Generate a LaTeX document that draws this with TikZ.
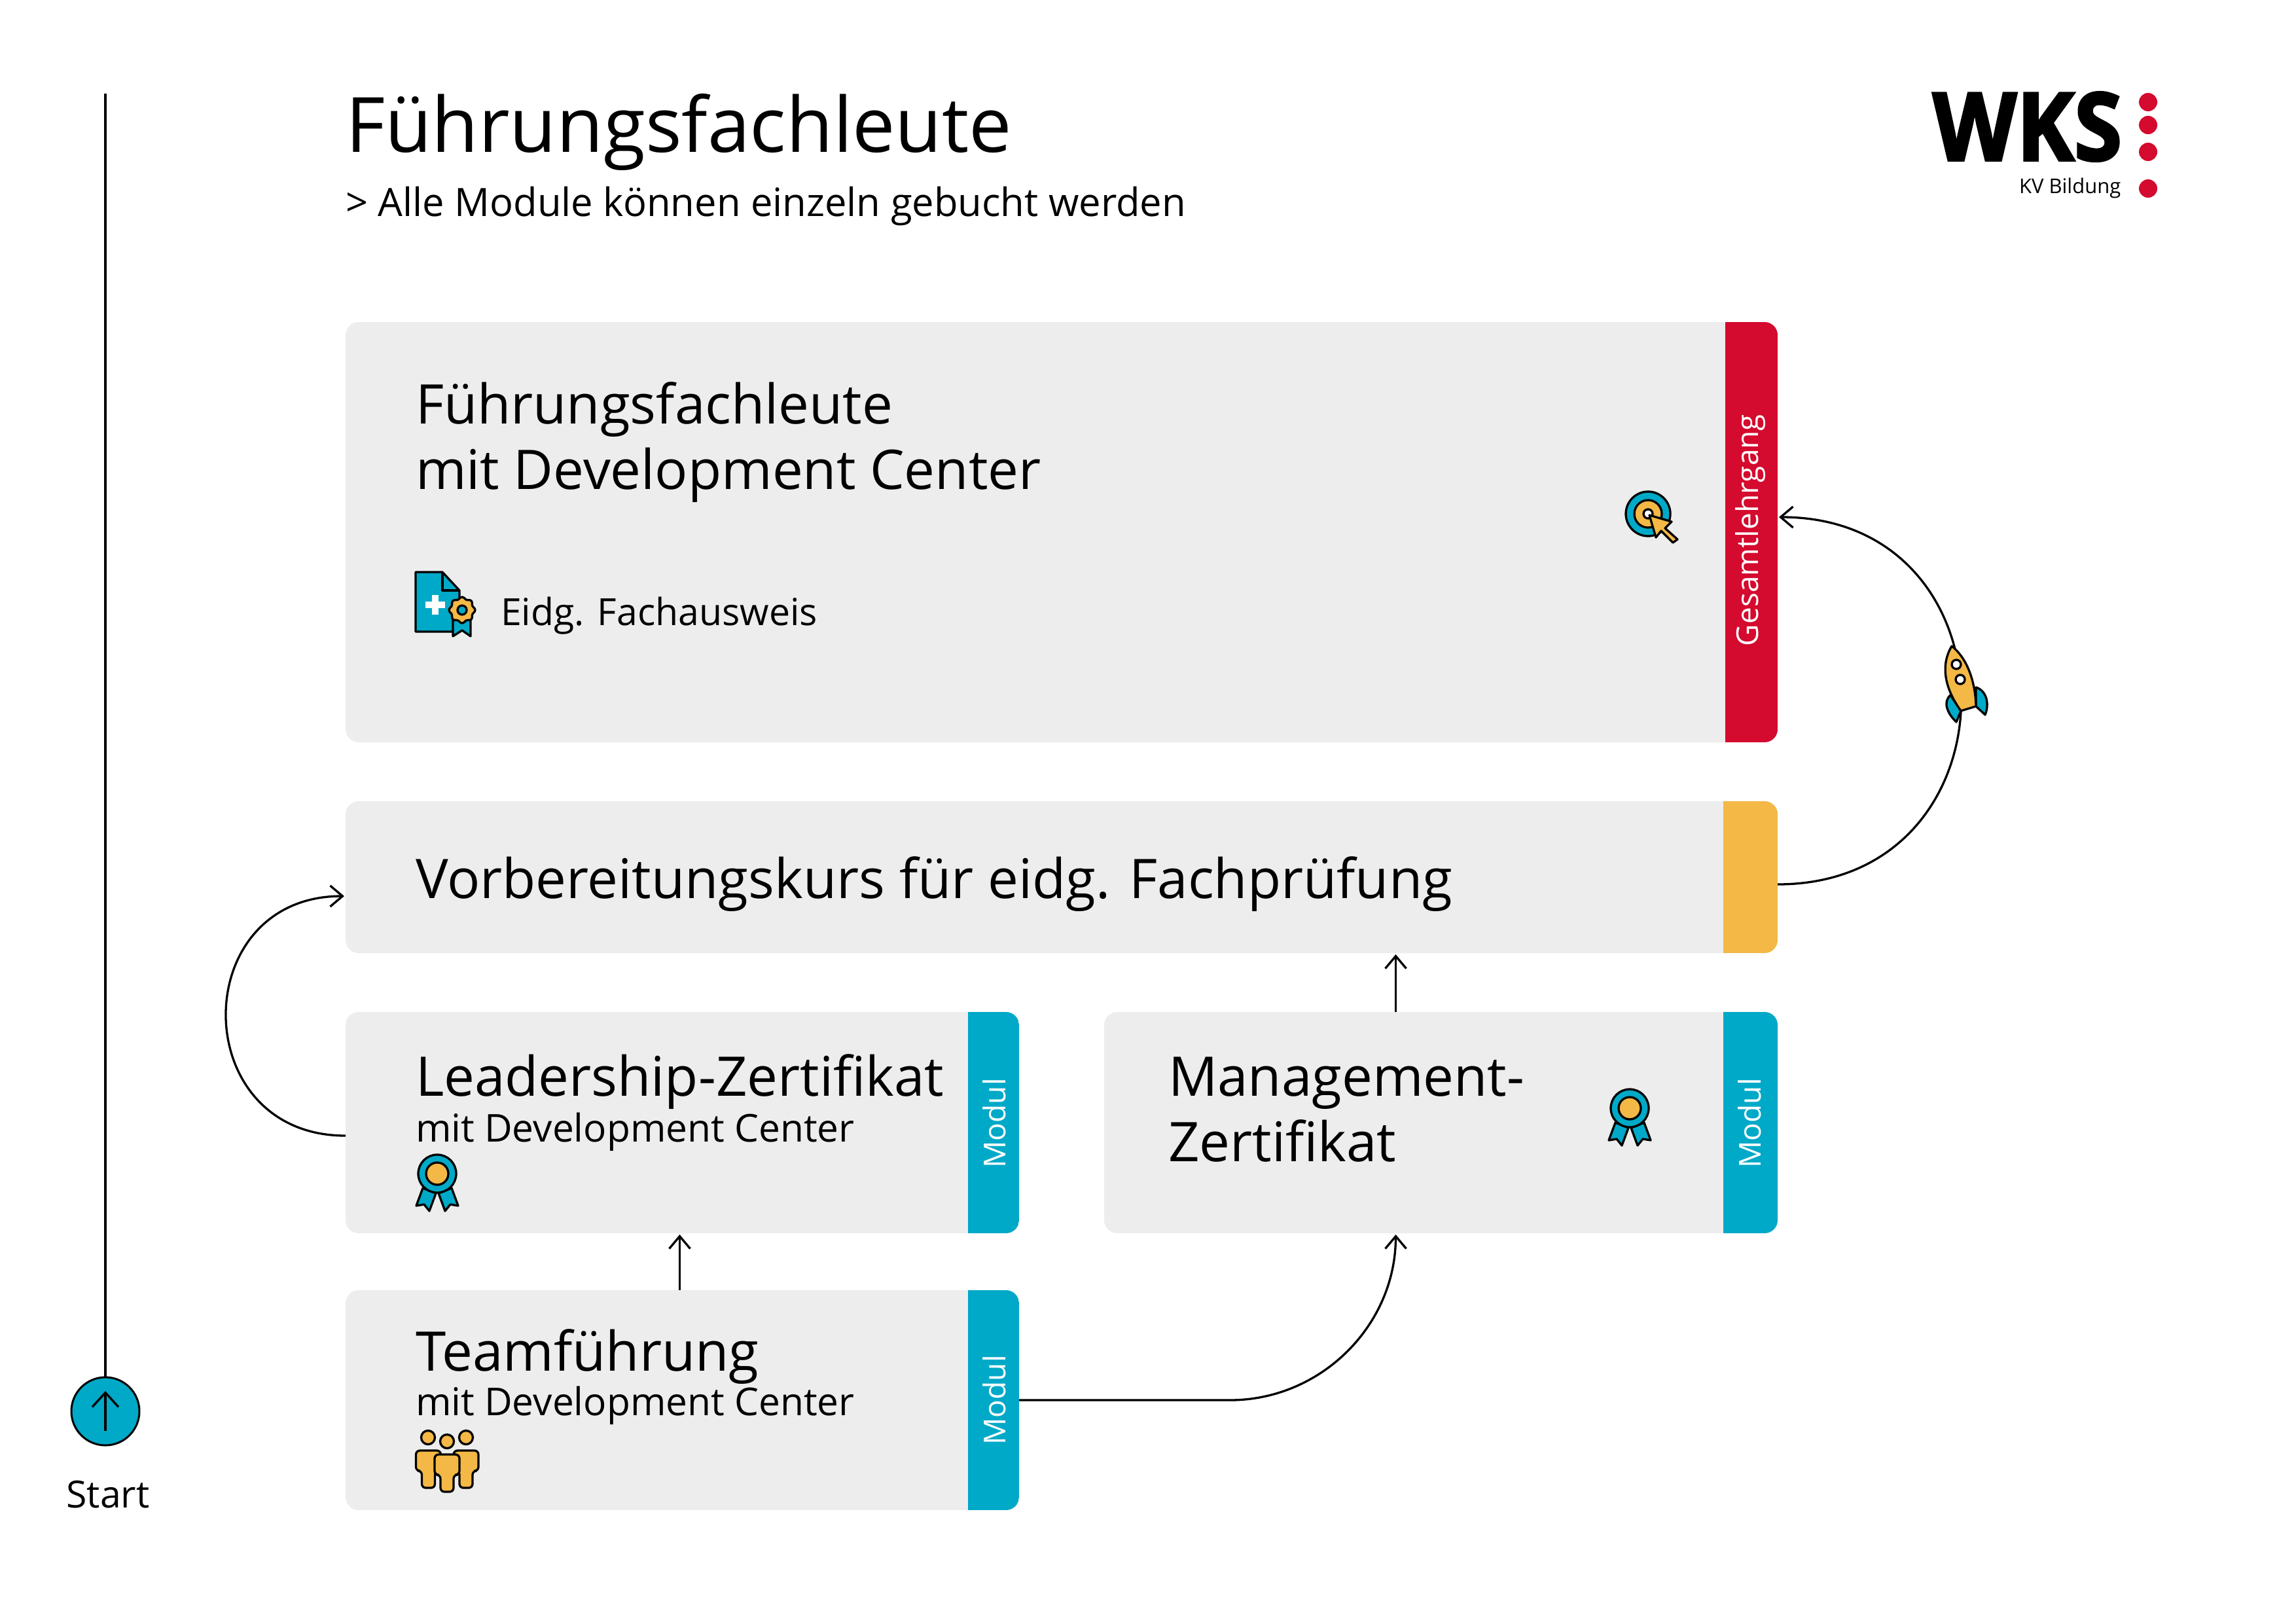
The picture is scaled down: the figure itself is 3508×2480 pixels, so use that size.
\documentclass[tikz,border=0pt]{standalone}
\usepackage{fontspec}
\setmainfont{Open Sans}
\newfontfamily\logofont[FakeBold=2.5,FakeStretch=0.92]{Open Sans}
\usetikzlibrary{arrows.meta}

\definecolor{wksblue}{HTML}{00A9C7}
\definecolor{wksyellow}{HTML}{F3B845}
\definecolor{wksred}{HTML}{D40A2E}
\definecolor{wksgray}{HTML}{EDEDED}

\newcommand{\sizetitle}{\fontsize{11.66mm}{13mm}\selectfont}
\newcommand{\sizelarge}{\fontsize{8.35mm}{10mm}\selectfont}
\newcommand{\sizesmall}{\fontsize{5.86mm}{7mm}\selectfont}
\newcommand{\sizelead}{\fontsize{5.97mm}{7mm}\selectfont}
\newcommand{\sizenote}{\fontsize{5.72mm}{7mm}\selectfont}
\newcommand{\sizestrip}{\fontsize{4.6mm}{6mm}\selectfont}

\begin{document}
\begin{tikzpicture}[
  x=0.1mm, y=-0.1mm,
  every node/.style={inner sep=0pt, outer sep=0pt},
  card/.style={fill=wksgray, rounded corners=2mm, anchor=north west,
               minimum width=#1, minimum height=33.8mm},
  strip/.style 2 args={path picture={
      \fill[#1, sharp corners] ([xshift=-#2]path picture bounding box.north east)
        rectangle (path picture bounding box.south east);}},
  striplabel/.style={white, rotate=90, font=\sizestrip},
  head/.style={font=\sizelarge, anchor=base west, align=left},
  sub/.style={font=\sizesmall, anchor=base west},
  flow/.style={-{Straight Barb[length=1.9mm,width=3.2mm]}, line width=0.33mm, shorten >=0.2mm},
  icon/.style={draw=black, line width=0.33mm, line join=round},
  rosette/.pic={
    \draw[icon, fill=wksblue] (-22,22) -- (-32,49) -- (-20,47) -- (-12,57) -- (-2,30) -- cycle;
    \draw[icon, fill=wksblue] (22,22) -- (32,49) -- (20,47) -- (12,57) -- (2,30) -- cycle;
    \draw[icon, fill=wksblue] (0,0) circle[radius=29];
    \draw[icon, fill=wksyellow] (0,0) circle[radius=17];
  },
  person/.pic={
    \draw[icon, fill=wksyellow, rounded corners=0.6mm] (-19,0) -- (19,0) -- (19,31) -- (10,31)
      -- (10,57) -- (-10,57) -- (-10,31) -- (-19,31) -- cycle;
  },
]
\useasboundingbox (0,0) rectangle (3508,2480);

% ---- start line ------------------------------------------------------
\node[circle, draw=black, line width=0.3mm, fill=wksblue, minimum size=10.4mm] (start) at (161,2156) {};
\node[font=\sizenote, anchor=base] (startlabel) at (165,2303) {Start};
\coordinate (linetop) at (161,143);
\draw[line width=0.33mm] (start.north) -- (linetop);
\draw[-{Straight Barb[length=2.2mm,width=4mm]}, line width=0.33mm] ([yshift=-3mm]start.center) -- ([yshift=3.1mm]start.center);

% ---- title and logo --------------------------------------------------
\node[font=\sizetitle, anchor=base west] (title) at (528,232) {Führungsfachleute};
\node[font=\sizelead, anchor=base west] (subtitle) at (528,330) {> Alle Module können einzeln gebucht werden};

\node[font={\logofont\bfseries\fontsize{14.4mm}{15mm}\selectfont}, anchor=base west, text depth=0pt] (wks) at (2953,245) {WKS};
\node[font=\fontsize{3.1mm}{4mm}\selectfont, anchor=base west] (bildung) at (3085,295) {KV Bildung};
\foreach \y/\name in {156/dota,191/dotb,232/dotc,288/dotd}
  \node[circle, fill=wksred, minimum size=2.8mm] (\name) at (3282,\y) {};

% ---- cards -----------------------------------------------------------
\node[card=218.8mm, minimum height=64.2mm, strip={wksred}{8mm}] (gesamt) at (528,492) {};
\node[card=218.8mm, minimum height=23.2mm, strip={wksyellow}{8.3mm}] (vorbereitung) at (528,1224) {};
\node[card=102.9mm, strip={wksblue}{7.8mm}] (leadership) at (528,1546) {};
\node[card=102.9mm, strip={wksblue}{8.3mm}] (management) at (1687,1546) {};
\node[card=102.9mm, minimum height=33.6mm, strip={wksblue}{7.8mm}] (team) at (528,1971) {};

% ---- card texts ------------------------------------------------------
\node[head] (gesamttext) at (635,647) {Führungsfachleute};
\node[head] (gesamttextb) at (635,747) {mit Development Center};
\node[font=\sizenote, anchor=base west] (fachausweis) at (765,955) {Eidg. Fachausweis};
\node[head] (vorbereitungtext) at (635,1372) {Vorbereitungskurs für eidg. Fachprüfung};
\node[head] (leadershiptext) at (635,1674) {Leadership-Zertifikat};
\node[sub] (leadershipsub) at (635,1744) {mit Development Center};
\node[head] (managementtext) at (1785,1674) {Management-};
\node[head] (managementtextb) at (1785,1774) {Zertifikat};
\node[head] (teamtext) at (635,2094) {Teamführung};
\node[sub] (teamsub) at (635,2162) {mit Development Center};

\node[striplabel] (gesamtstrip) at (2675,810) {Gesamtlehrgang};
\node[striplabel] (leadershipstrip) at (1519,1716) {Modul};
\node[striplabel] (managementstrip) at (2673,1716) {Modul};
\node[striplabel] (teamstrip) at (1519,2139) {Modul};

% ---- connectors ------------------------------------------------------
\draw[flow] ([yshift=-1.1mm]vorbereitung.east) .. controls +(373,0) and +(373,0) .. ([yshift=2.3mm]gesamt.east);
\draw[flow] ([yshift=-2mm]leadership.west) .. controls +(-243,0) and +(-243,0) .. ([yshift=-2.9mm]vorbereitung.west);
\draw[flow] ([xshift=-0.4mm]team.north) -- ([xshift=-0.4mm]leadership.south);
\draw[flow] ([xshift=-6.9mm]management.north) -- ([xshift=-6.9mm]vorbereitung.south -| management.north);
\draw[flow] (team.east) -- ++(322,0) .. controls +(140,0) and +(0,140) .. ([xshift=-6.9mm]management.south);

% ---- icons -----------------------------------------------------------
% document
\draw[icon, fill=wksblue] (635,874) -- (676,874) -- (702,902) -- (702,965) -- (635,965) -- cycle;
\draw[icon] (676,874) -- (676,902) -- (702,902);
\fill[white] (650,919) rectangle (680,929);
\fill[white] (660,909) rectangle (670,939);
\draw[icon, fill=wksblue] (692,945) -- (692,972) -- (706,963) -- (719,972) -- (719,945) -- cycle;
\draw[icon, fill=wksyellow] plot[smooth cycle, samples=49, domain=0:352.5, variable=\t]
  ({706+(18.5+1.5*cos(8*\t))*cos(\t)},{932+(18.5+1.5*cos(8*\t))*sin(\t)});
\draw[icon, fill=wksblue] (706,932) circle[radius=7];

% target
\draw[icon, fill=wksblue] (2518,785) circle[radius=34];
\draw[icon, fill=wksyellow] (2518,785) circle[radius=21];
\draw[icon, fill=white] (2518,785) circle[radius=7];
\draw[icon, fill=wksyellow] (2520,787) -- (2554,797) -- (2544,807) -- (2563,824) -- (2556,829)
  -- (2538,811) -- (2530,821) -- cycle;

% rocket
\draw[icon, fill=wksblue] (2980,1062) .. controls (2968,1072) and (2975,1090) .. (2989,1103) -- (2996,1086) -- cycle;
\draw[icon, fill=wksblue] (3019,1050) .. controls (3035,1055) and (3040,1075) .. (3033,1092) -- (3019,1079) -- cycle;
\draw[icon, fill=wksyellow] (2982,987) .. controls (2965,1015) and (2970,1050) .. (2996,1086)
  -- (3019,1079) .. controls (3018,1040) and (3005,1005) .. cycle;
\draw[icon, fill=white] (2989,1015) circle[radius=7];
\draw[icon, fill=white] (2995,1038) circle[radius=7];

% ribbons
\pic at (668,1793) {rosette};
\pic at (2490,1693) {rosette};

% people
\pic at (654.5,2216) {person};
\pic at (712,2216) {person};
\pic at (683,2222) {person};
\draw[icon, fill=wksyellow] (654,2196) circle[radius=10.5];
\draw[icon, fill=wksyellow] (712,2196) circle[radius=10.5];
\draw[icon, fill=wksyellow] (683,2202) circle[radius=10.5];

\end{tikzpicture}
\end{document}
